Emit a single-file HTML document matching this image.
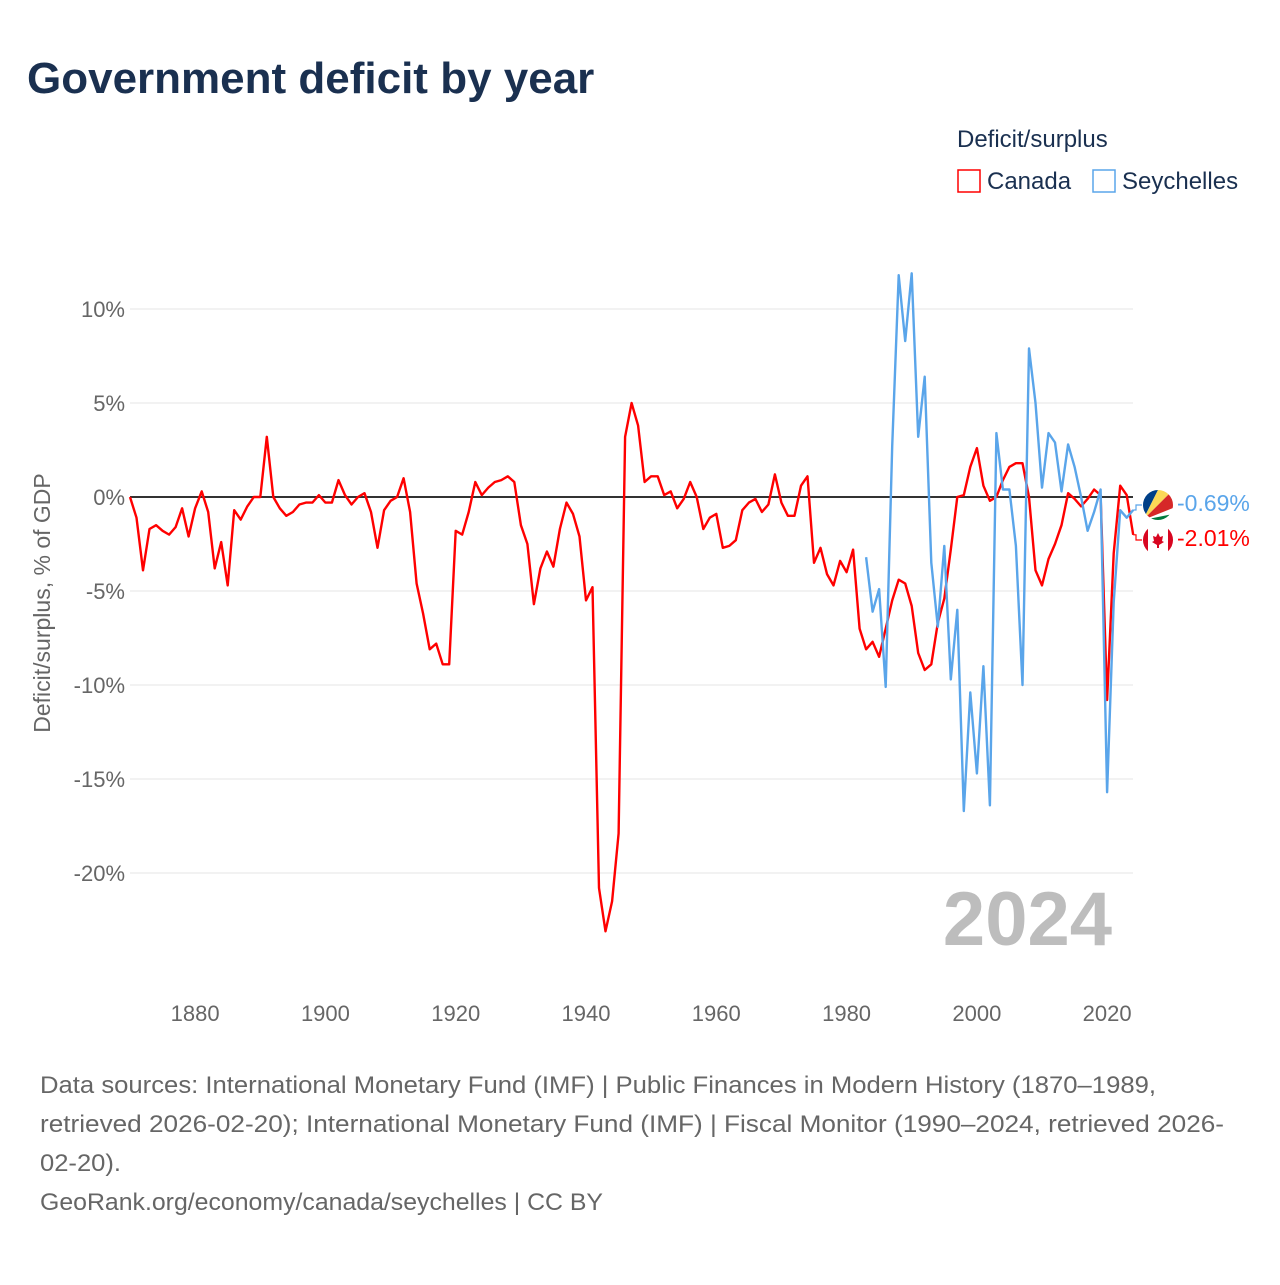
<!DOCTYPE html>
<html><head><meta charset="utf-8"><style>
body{margin:0;background:#fff;font-family:"Liberation Sans",sans-serif;}
svg text{font-family:"Liberation Sans",sans-serif;}
</style></head><body>
<svg width="1280" height="1280" xmlns="http://www.w3.org/2000/svg">
<text x="27" y="93" font-size="44" font-weight="bold" fill="#1a3050">Government deficit by year</text>
<g>
<text x="957" y="147" font-size="24" fill="#1a3050">Deficit/surplus</text>
<g><rect x="958" y="170" width="22" height="22" fill="none" stroke="#ff0000" stroke-width="1.5"/><text x="987" y="189" font-size="24" fill="#1a3050">Canada</text></g>
<g><rect x="1093" y="170" width="22" height="22" fill="none" stroke="#5aa5ea" stroke-width="1.5"/><text x="1122" y="189" font-size="24" fill="#1a3050">Seychelles</text></g>
</g>
<text transform="translate(50,603) rotate(-90)" text-anchor="middle" font-size="23" fill="#666">Deficit/surplus, % of GDP</text>
<g id="grid"></g><g id="series"></g>
<text x="1112" y="945" text-anchor="end" font-size="76" font-weight="bold" fill="#bdbdbd">2024</text>
<g id="endlabels"></g>
<g font-size="24" fill="#666">
<text x="40" y="1093" textLength="1116" lengthAdjust="spacingAndGlyphs">Data sources: International Monetary Fund (IMF) | Public Finances in Modern History (1870–1989,</text>
<text x="40" y="1132" textLength="1184" lengthAdjust="spacingAndGlyphs">retrieved 2026-02-20); International Monetary Fund (IMF) | Fiscal Monitor (1990–2024, retrieved 2026-</text>
<text x="40" y="1171" textLength="81" lengthAdjust="spacingAndGlyphs">02-20).</text>
<text x="40" y="1210" textLength="563" lengthAdjust="spacingAndGlyphs">GeoRank.org/economy/canada/seychelles | CC BY</text>
</g>
</svg>
<script>
const canadaStart = 1870;
const canadaValues = [0,-1.1,-3.9,-1.7,-1.5,-1.8,-2.0,-1.6,-0.6,-2.1,-0.6,0.3,-0.8,-3.8,-2.4,-4.7,-0.7,-1.2,-0.5,0,0,3.2,0,-0.6,-1.0,-0.8,-0.4,-0.3,-0.3,0.1,-0.3,-0.3,0.9,0.1,-0.4,0,0.2,-0.8,-2.7,-0.7,-0.2,0,1.0,-0.8,-4.6,-6.2,-8.1,-7.8,-8.9,-8.9,-1.8,-2.0,-0.8,0.8,0.1,0.5,0.8,0.9,1.1,0.8,-1.5,-2.5,-5.7,-3.8,-2.9,-3.7,-1.7,-0.3,-0.9,-2.1,-5.5,-4.8,-20.8,-23.1,-21.5,-17.9,3.2,5.0,3.8,0.8,1.1,1.1,0.1,0.3,-0.6,-0.1,0.8,0,-1.7,-1.1,-0.9,-2.7,-2.6,-2.3,-0.7,-0.3,-0.1,-0.8,-0.4,1.2,-0.3,-1.0,-1.0,0.6,1.1,-3.5,-2.7,-4.1,-4.7,-3.4,-4.0,-2.8,-7.0,-8.1,-7.7,-8.5,-7.0,-5.5,-4.4,-4.6,-5.8,-8.3,-9.2,-8.9,-6.7,-5.4,-2.8,0,0.1,1.6,2.6,0.6,-0.2,0,0.9,1.6,1.8,1.8,0,-3.9,-4.7,-3.3,-2.5,-1.5,0.2,-0.1,-0.5,-0.1,0.4,0.1,-10.8,-3.0,0.6,0.1,-2.01];
const seyStart = 1983;
const seyValues = [-3.2,-6.1,-4.9,-10.1,2.7,11.8,8.3,11.9,3.2,6.4,-3.5,-6.9,-2.6,-9.7,-6.0,-16.7,-10.4,-14.7,-9.0,-16.4,3.4,0.4,0.4,-2.6,-10.0,7.9,5.0,0.5,3.4,2.9,0.3,2.8,1.6,0,-1.8,-0.8,0.4,-15.7,-5.6,-0.7,-1.1,-0.69];
const yTicks = [10,5,0,-5,-10,-15,-20];
const xTicks = [1880,1900,1920,1940,1960,1980,2000,2020];
const x = yr => 130 + (yr-1870)*(1107-195)/140;
const y = v => 497 - v*18.8;
const NS="http://www.w3.org/2000/svg";
function mk(t,a,p){const e=document.createElementNS(NS,t);for(const k in a)e.setAttribute(k,a[k]);p.appendChild(e);return e;}
const grid=document.getElementById('grid');
yTicks.forEach(v=>{
  const l=mk('line',{x1:130,x2:1133,y1:y(v),y2:y(v),stroke:v===0?'#333':'#e6e6e6','stroke-width':v===0?2:1},grid);
  
  
  const t=mk('text',{x:125,y:y(v)+8,'text-anchor':'end','font-size':22,fill:'#666'},grid);
  t.textContent=v+'%';
  
  
});
xTicks.forEach(yr=>{
  const t=mk('text',{x:x(yr),y:1021,'text-anchor':'middle','font-size':22,fill:'#666'},grid);
  t.textContent=yr;
  
  
});
const ser=document.getElementById('series');
function line(start,vals,col,name){
  const d=vals.map((v,i)=>(i?'L':'M')+x(start+i).toFixed(1)+','+y(v).toFixed(1)).join('');
  const p=mk('path',{d:d,fill:'none',stroke:col,'stroke-width':2.4,'stroke-linejoin':'round'},ser);
  
  
}
line(canadaStart,canadaValues,'#ff0000','canada-line');
line(seyStart,seyValues,'#5aa5ea','seychelles-line');
const el=document.getElementById('endlabels');
const ex=x(2024);
const sv=seyValues[seyValues.length-1], cv=canadaValues[canadaValues.length-1];
mk('path',{d:`M${ex},${y(sv)}H1136V505H1142`,fill:'none',stroke:'#5aa5ea','stroke-width':1.2},el);
mk('path',{d:`M${ex},${y(cv)}H1136V540H1142`,fill:'none',stroke:'#ff0000','stroke-width':1.2},el);
const g1=mk('g',{},el);


const cp=mk('clipPath',{id:'c1'},g1);
mk('circle',{cx:1158,cy:505,r:15},cp);
const cg1=mk('g',{'clip-path':'url(#c1)'},g1);
mk('rect',{x:1143,y:490,width:30,height:30,fill:'#fff'},cg1);
mk('polygon',{points:'1143,520 1143,490 1158,490',fill:'#003f87'},cg1);
mk('polygon',{points:'1143,520 1158,490 1173,490',fill:'#fcd856'},cg1);
mk('polygon',{points:'1143,520 1173,490 1173,508',fill:'#d62828'},cg1);
mk('polygon',{points:'1143,520 1173,514 1173,520',fill:'#007a3d'},cg1);
const g2=mk('g',{},el);


mk('circle',{cx:1158,cy:540,r:15,fill:'#fff'},g2);
mk('path',{d:'M1148,528.8A15,15 0 0 0 1148,551.2Z',fill:'#d80621'},g2);
mk('path',{d:'M1168,528.8A15,15 0 0 1 1168,551.2Z',fill:'#d80621'},g2);
mk('polygon',{points:'1158,533 1160,537 1163,536 1162,541 1164,542 1159,545 1159,548 1157,548 1157,545 1152,542 1154,541 1153,536 1156,537',fill:'#d80621'},g2);
const t1=mk('text',{x:1177,y:511,'font-size':23,fill:'#5aa5ea'},el);t1.textContent='-0.69%';


const t2=mk('text',{x:1177,y:546,'font-size':23,fill:'#ff0000'},el);t2.textContent='-2.01%';


</script>
</body></html>
